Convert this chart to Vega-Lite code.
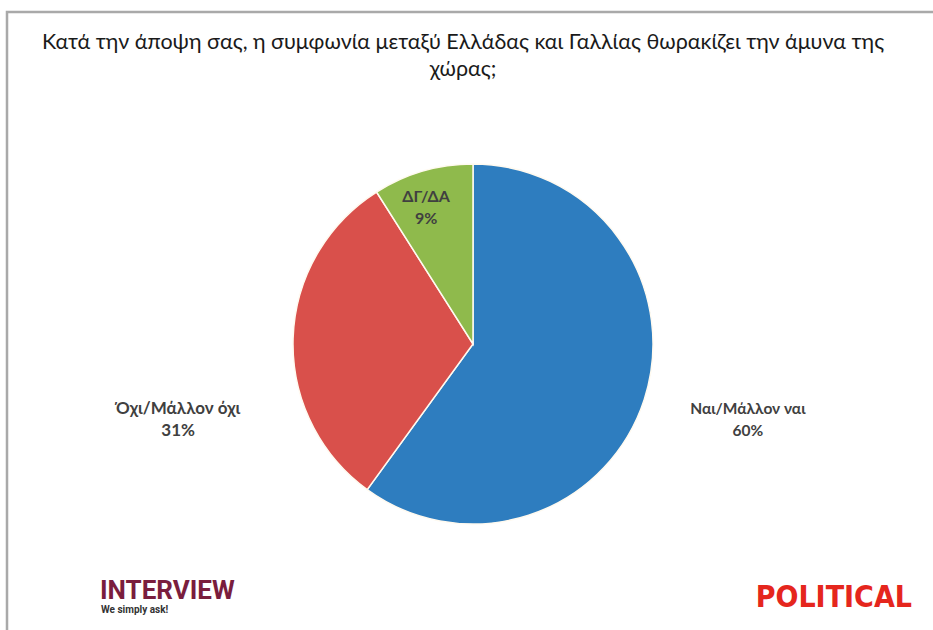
{
  "$schema": "https://vega.github.io/schema/vega-lite/v6.json",
  "autosize": "none",
  "width": 932,
  "height": 664,
  "padding": {"left": 7, "top": 12, "right": 0, "bottom": 0},
  "background": "white",
  "config": {"view": {"stroke": "#a9a9a9", "strokeWidth": 2.5}},
  "title": {
    "text": ["Κατά την άποψη σας, η  συμφωνία μεταξύ Ελλάδας και  Γαλλίας θωρακίζει την άμυνα της", "χώρας;"],
    "anchor": "middle",
    "orient": "top",
    "baseline": "top",
    "offset": 0,
    "dy": 68,
    "dx": -10,
    "font": "Lato",
    "fontSize": 21.5,
    "fontWeight": "normal",
    "lineHeight": 27,
    "color": "#1a1a1a"
  },
  "datasets": {
    "poll": [
      {"cat": "Ναι/Μάλλον ναι", "value": 60, "label": "Ναι/Μάλλον ναι\n60%", "order": 1},
      {"cat": "Όχι/Μάλλον όχι", "value": 31, "label": "Όχι/Μάλλον όχι\n31%", "order": 2},
      {"cat": "ΔΓ/ΔΑ", "value": 9, "label": "ΔΓ/ΔΑ\n9%", "order": 3}
    ],
    "brands": [
      {"brand": "INTERVIEW", "side": "left"},
      {"brand": "We simply ask!", "side": "left"},
      {"brand": "POLITICAL", "side": "right"}
    ]
  },
  "layer": [
    {
      "data": {"name": "poll"},
      "mark": {"type": "arc", "outerRadius": 180, "stroke": "#fffaf0", "strokeWidth": 1.5},
      "encoding": {
        "theta": {"field": "value", "type": "quantitative", "stack": true},
        "order": {"field": "order", "type": "quantitative"},
        "color": {
          "field": "cat", "type": "nominal",
          "scale": {"domain": ["Ναι/Μάλλον ναι", "Όχι/Μάλλον όχι", "ΔΓ/ΔΑ"], "range": ["#2e7dbf", "#d9504b", "#8fba4c"]},
          "legend": null
        }
      }
    },
    {
      "data": {"name": "poll"},
      "mark": {"type": "text", "radius": 289, "dy": -24, "font": "Lato", "fontSize": 15.5, "fontWeight": "bold", "color": "#404040", "lineBreak": "\n", "lineHeight": 22, "align": "center", "baseline": "middle"},
      "encoding": {
        "theta": {"field": "value", "type": "quantitative", "stack": true},
        "order": {"field": "order", "type": "quantitative"},
        "detail": {"field": "cat", "type": "nominal"},
        "text": {"condition": {"test": "datum.cat === 'Ναι/Μάλλον ναι'", "field": "label"}, "value": ""}
      }
    },
    {
      "data": {"name": "poll"},
      "mark": {"type": "text", "radius": 295, "dy": 74, "font": "Lato", "fontSize": 17, "fontWeight": "bold", "color": "#404040", "lineBreak": "\n", "lineHeight": 22, "align": "center", "baseline": "middle"},
      "encoding": {
        "theta": {"field": "value", "type": "quantitative", "stack": true},
        "order": {"field": "order", "type": "quantitative"},
        "detail": {"field": "cat", "type": "nominal"},
        "text": {"condition": {"test": "datum.cat === 'Όχι/Μάλλον όχι'", "field": "label"}, "value": ""}
      }
    },
    {
      "data": {"name": "poll"},
      "mark": {"type": "text", "radius": 143, "dx": -7, "dy": -10, "font": "Lato", "fontSize": 16, "fontWeight": "bold", "color": "#404040", "lineBreak": "\n", "lineHeight": 22, "align": "center", "baseline": "middle"},
      "encoding": {
        "theta": {"field": "value", "type": "quantitative", "stack": true},
        "order": {"field": "order", "type": "quantitative"},
        "detail": {"field": "cat", "type": "nominal"},
        "text": {"condition": {"test": "datum.cat === 'ΔΓ/ΔΑ'", "field": "label"}, "value": ""}
      }
    },
    {
      "data": {"name": "brands"},
      "transform": [{"filter": "datum.brand === 'INTERVIEW'"}],
      "mark": {"type": "text", "align": "left", "baseline": "middle", "dx": 93, "dy": 247, "font": "Roboto", "fontSize": 26, "fontWeight": "bold", "color": "#7a1d3d"},
      "encoding": {
        "x": {"field": "side", "type": "nominal", "scale": {"type": "point", "domain": ["left", "right"], "padding": 0}, "axis": null},
        "text": {"field": "brand"}
      }
    },
    {
      "data": {"name": "brands"},
      "transform": [{"filter": "datum.brand === 'We simply ask!'"}],
      "mark": {"type": "text", "align": "left", "baseline": "middle", "dx": 94, "dy": 266, "font": "Roboto", "fontSize": 10, "fontWeight": "bold", "color": "#333333"},
      "encoding": {
        "x": {"field": "side", "type": "nominal", "scale": {"type": "point", "domain": ["left", "right"], "padding": 0}, "axis": null},
        "text": {"field": "brand"}
      }
    },
    {
      "data": {"name": "brands"},
      "transform": [{"filter": "datum.brand === 'POLITICAL'"}],
      "mark": {"type": "text", "align": "right", "baseline": "middle", "dx": -27, "dy": 254, "font": "DejaVu Sans Condensed, Roboto Condensed, Liberation Sans, sans-serif", "fontSize": 30, "fontWeight": "bold", "color": "#e5261d"},
      "encoding": {
        "x": {"field": "side", "type": "nominal", "scale": {"type": "point", "domain": ["left", "right"], "padding": 0}, "axis": null},
        "text": {"field": "brand"}
      }
    }
  ]
}
